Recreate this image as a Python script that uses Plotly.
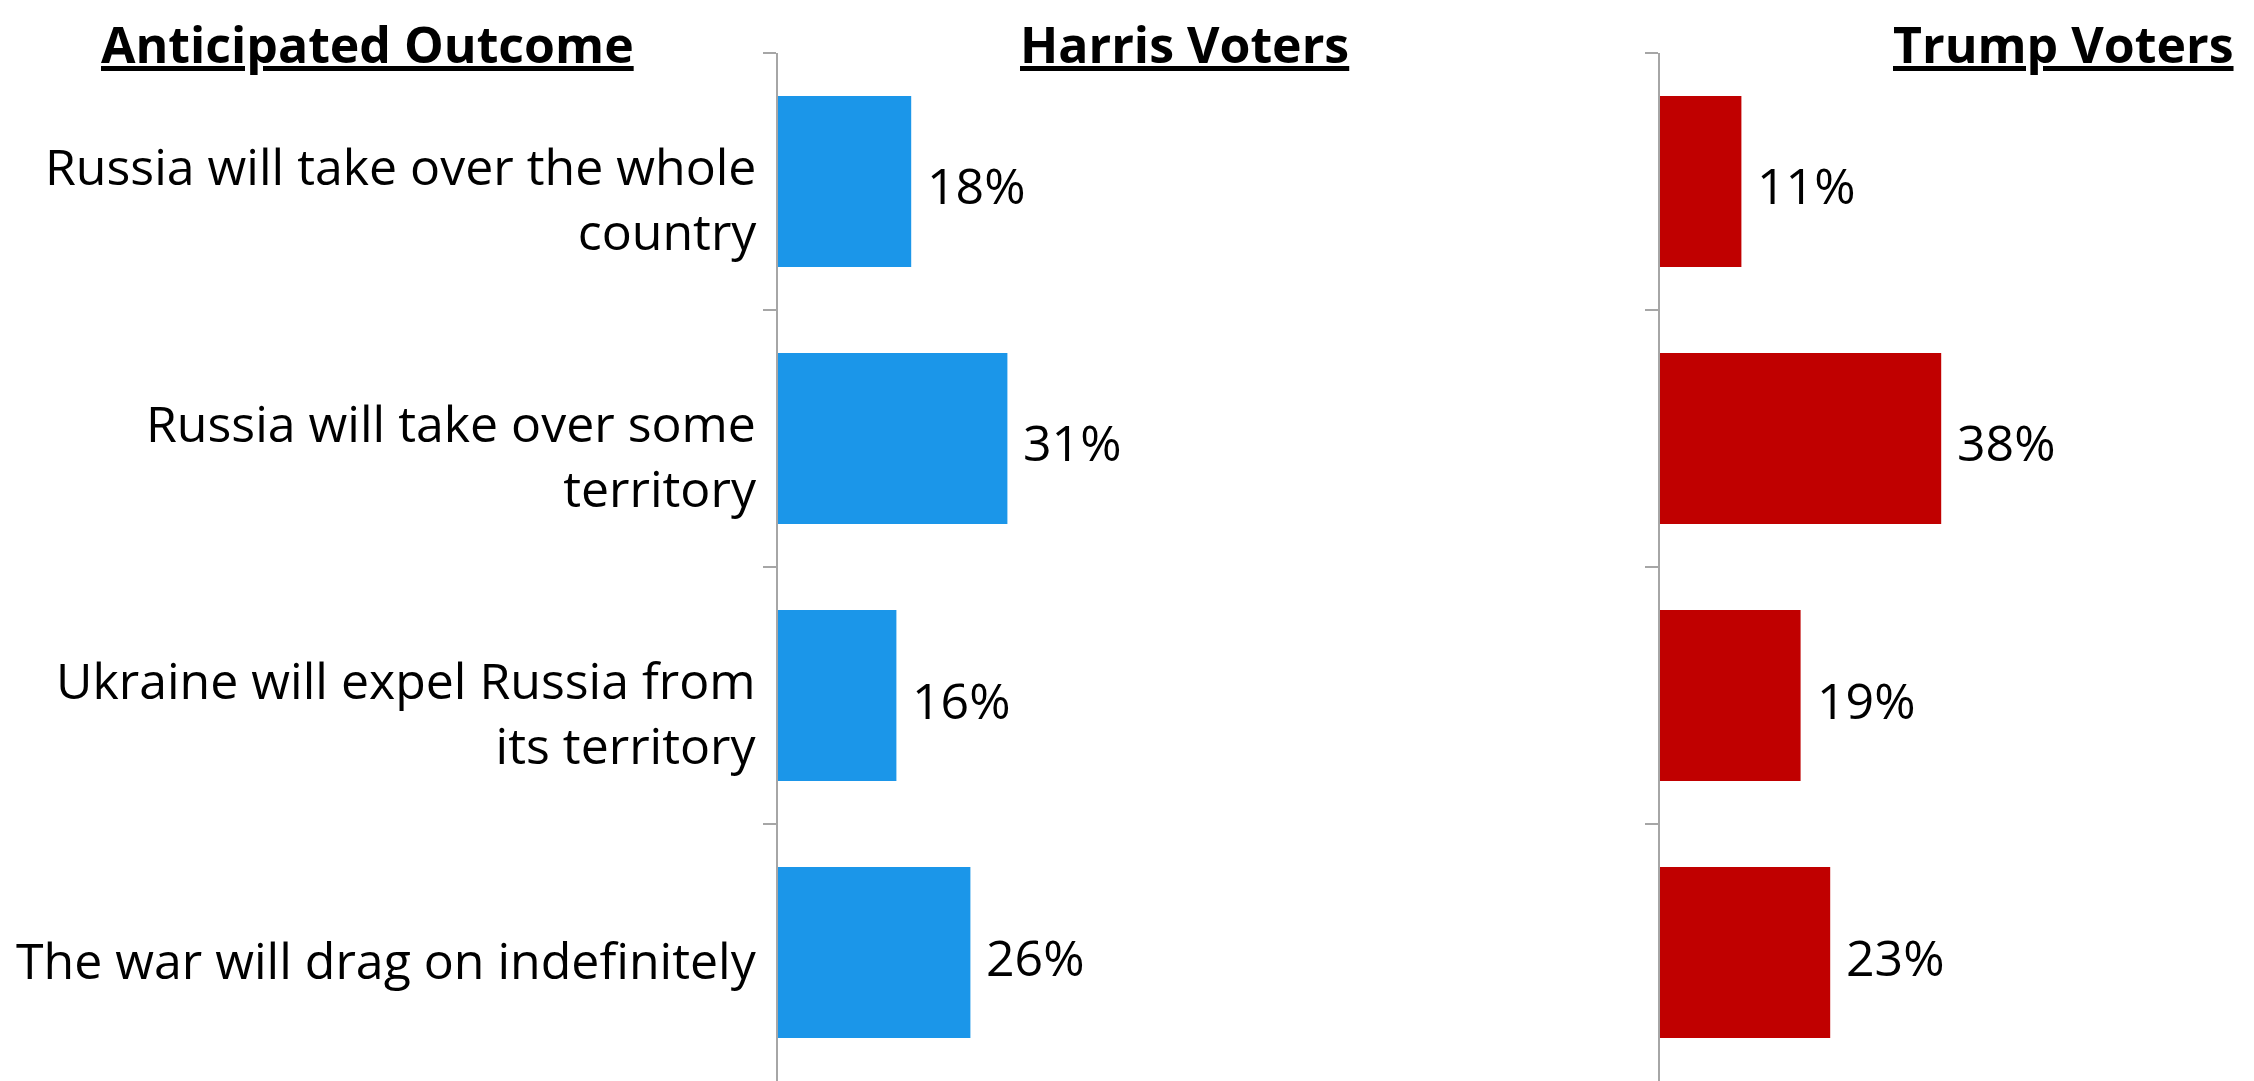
import plotly.graph_objects as go

categories = [
    "Russia will take over the whole<br>country",
    "Russia will take over some<br>territory",
    "Ukraine will expel Russia from<br>its territory",
    "The war will drag on indefinitely",
]
harris_values = [18, 31, 16, 26]
trump_values = [11, 38, 19, 23]
panel_titles = ["Anticipated Outcome", "Harris Voters", "Trump Voters"]

# page is 2254x1081; the figure sits at the browser's default 8px body offset
OFF = 8
W, H = 2254 - OFF, 1081 - OFF
FONT = "Open Sans"
BLUE = "#1B96E9"
RED = "#C00000"
AXIS = "#A6A6A6"

X_MAX = 77.5
PX_PER_PCT = 7.40
panel_w = X_MAX * PX_PER_PCT
h_left, t_left = 778 - OFF, 1660 - OFF

fig = go.Figure()
fig.add_trace(go.Bar(y=categories, x=harris_values, orientation="h",
                     marker=dict(color=BLUE, line=dict(width=0)),
                     xaxis="x", yaxis="y", hoverinfo="skip"))
fig.add_trace(go.Bar(y=categories, x=trump_values, orientation="h",
                     marker=dict(color=RED, line=dict(width=0)),
                     xaxis="x2", yaxis="y2", hoverinfo="skip"))

annotations = []
for xr, yr, vals in (("x", "y", harris_values), ("x2", "y2", trump_values)):
    for c, v in zip(categories, vals):
        annotations.append(dict(x=v, y=c, xref=xr, yref=yr, text=f"{v}%",
                                showarrow=False, xanchor="left", yanchor="middle",
                                xshift=14, yshift=-4,
                                font=dict(family=FONT, size=50, color="black")))

# category labels, right-aligned left of the Harris axis
for c in categories:
    two_lines = "<br>" in c
    annotations.append(dict(x=0, y=c, xref="x", yref="y", text=c,
                            showarrow=False, xanchor="right", yanchor="middle",
                            align="right", xshift=-19,
                            yshift=-17 if two_lines else -7,
                            font=dict(family=FONT, size=50, color="black")))

title_specs = [(367, "center"), (1351, "right"), (2236, "right")]
for t, (px, anc) in zip(panel_titles, title_specs):
    annotations.append(dict(x=(px - OFF) / W, y=1,
                            xref="paper", yref="paper",
                            text=f"<b><u>{t}</u></b>", showarrow=False,
                            xanchor=anc, yanchor="top",
                            font=dict(family=FONT, size=50, color="black")))

y_top = 1 - (53 - OFF) / H
yaxis_common = dict(
    domain=[0, y_top], categoryorder="array", categoryarray=categories,
    autorange="reversed", showline=True, linecolor=AXIS, linewidth=1.5,
    ticks="outside", tickson="boundaries", ticklen=13, tickcolor=AXIS,
    tickwidth=1.5, showgrid=False, zeroline=False, automargin=False,
    showticklabels=False, fixedrange=True,
)

fig.update_layout(
    width=W, height=H, margin=dict(l=0, r=0, t=0, b=0),
    paper_bgcolor="white", plot_bgcolor="white", showlegend=False,
    bargap=0.335,
    font=dict(family=FONT, color="black"),
    xaxis=dict(domain=[h_left / W, (h_left + panel_w) / W], range=[0, X_MAX],
               visible=False, fixedrange=True),
    xaxis2=dict(domain=[t_left / W, (t_left + panel_w) / W], range=[0, X_MAX],
                visible=False, fixedrange=True),
    yaxis=dict(anchor="x", **yaxis_common),
    yaxis2=dict(anchor="x2", **yaxis_common),
    annotations=annotations,
)

fig.write_html("out.html")
